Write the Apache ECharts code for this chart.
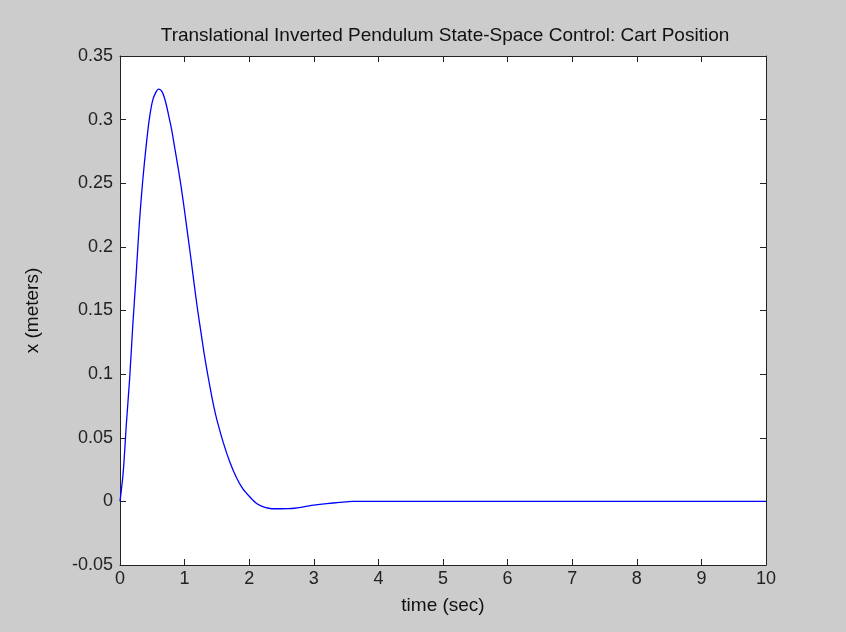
<!DOCTYPE html>
<html>
<head>
<meta charset="utf-8">
<script src="https://cdn.jsdelivr.net/npm/echarts@6/dist/echarts.min.js"></script>
<style>
  html, body { margin: 0; padding: 0; background: #cccccc; }
  #chart { width: 846px; height: 632px; }
</style>
</head>
<body>
<div id="chart"></div>
<script>
// Cart position response (time in seconds, position in meters)
const timeSec = [
  0, 0.05, 0.1, 0.15, 0.2, 0.25, 0.3, 0.35, 0.4, 0.45, 0.5, 0.55, 0.6,
  0.65, 0.7, 0.75, 0.8, 0.85, 0.9, 0.95, 1.0, 1.05, 1.1, 1.15, 1.2, 1.25,
  1.3, 1.35, 1.4, 1.45, 1.5, 1.6, 1.7, 1.8, 1.9, 2.0, 2.1, 2.2, 2.3, 2.4,
  2.5, 2.6, 2.7, 2.8, 2.9, 3.0, 3.2, 3.4, 3.6, 4, 5, 6, 7, 8, 9, 10
];
const cartPos = [
  0, 0.023, 0.062, 0.097, 0.140, 0.178, 0.219, 0.251, 0.277, 0.299, 0.314, 0.321, 0.324,
  0.322, 0.315, 0.304, 0.292, 0.277, 0.262, 0.246, 0.228, 0.209, 0.190, 0.170, 0.151, 0.134,
  0.117, 0.102, 0.088, 0.075, 0.064, 0.046, 0.031, 0.019, 0.010, 0.004, -0.001, -0.004, -0.0054, -0.0058,
  -0.0058, -0.0057, -0.0054, -0.0047, -0.0038, -0.003, -0.0018, -0.0008, 0, 0, 0, 0, 0, 0, 0, 0
];

const chartTitle = 'Translational Inverted Pendulum State-Space Control: Cart Position';
const xName = 'time (sec)';
const yName = 'x (meters)';

const font = 'Liberation Sans, Arial, sans-serif';
const axisColor = '#222222';

const chart = echarts.init(document.getElementById('chart'));

const baseAxis = {
  axisLine: { show: true, onZero: false, lineStyle: { color: axisColor, width: 1 } },
  axisTick: { show: true, inside: true, length: 6, lineStyle: { color: axisColor } },
  splitLine: { show: false }
};

chart.setOption({
  backgroundColor: '#cccccc',
  animation: false,
  title: {
    text: chartTitle,
    left: 440,
    textAlign: 'center',
    top: 21,
    textStyle: { fontFamily: font, fontSize: 19, fontWeight: 'normal', color: '#111' }
  },
  grid: {
    left: 120, right: 80, top: 56, bottom: 67,
    show: true, backgroundColor: '#ffffff', borderWidth: 0
  },
  xAxis: [
    Object.assign({}, baseAxis, {
      type: 'value', min: 0, max: 10, interval: 1, position: 'bottom',
      name: xName, nameLocation: 'middle', nameGap: 31,
      nameTextStyle: { fontFamily: font, fontSize: 19, color: '#111' },
      axisLabel: { fontFamily: font, fontSize: 18, color: '#222', margin: 5 }
    }),
    Object.assign({}, baseAxis, {
      type: 'value', min: 0, max: 10, interval: 1, position: 'top',
      axisLabel: { show: false }
    })
  ],
  yAxis: [
    Object.assign({}, baseAxis, {
      type: 'value', min: -0.05, max: 0.35, interval: 0.05, position: 'left',
      name: yName, nameLocation: 'middle', nameGap: 78, nameRotate: 90,
      nameTextStyle: { fontFamily: font, fontSize: 19, color: '#111' },
      axisLabel: { fontFamily: font, fontSize: 18, color: '#222', margin: 7 }
    }),
    Object.assign({}, baseAxis, {
      type: 'value', min: -0.05, max: 0.35, interval: 0.05, position: 'right',
      axisLabel: { show: false }
    })
  ],
  series: [{
    type: 'line',
    xAxisIndex: 0,
    yAxisIndex: 0,
    data: timeSec.map((t, i) => [t, cartPos[i]]),
    smooth: 0.3,
    showSymbol: false,
    lineStyle: { color: '#0000ff', width: 1.3 }
  }]
});
</script>
</body>
</html>
